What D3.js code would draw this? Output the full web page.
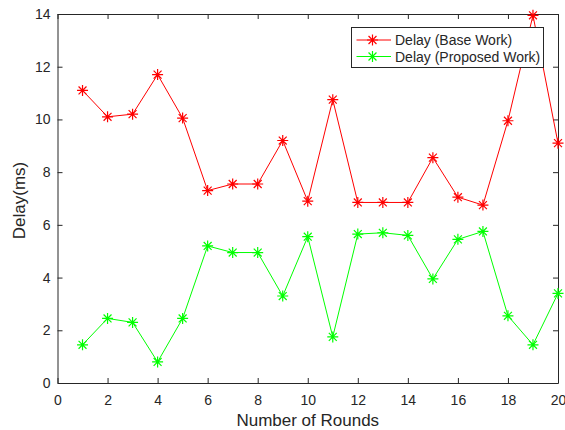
<!DOCTYPE html>
<html>
<head>
<meta charset="utf-8">
<script src="https://cdn.jsdelivr.net/npm/d3@7/dist/d3.min.js"></script>
<style>
  body { margin: 0; background: #fff; }
  text { font-family: "Liberation Sans", Arial, sans-serif; fill: #262626; }
</style>
</head>
<body>
<div id="chart"></div>
<script>
// data
let rounds = [1,2,3,4,5,6,7,8,9,10,11,12,13,14,15,16,17,18,19,20];
let baseDelay = [11.1,10.1,10.2,11.7,10.05,7.3,7.55,7.55,9.2,6.9,10.75,6.85,6.85,6.85,8.55,7.05,6.75,9.95,13.95,9.1];
let propDelay = [1.45,2.45,2.3,0.8,2.45,5.2,4.95,4.95,3.3,5.55,1.75,5.65,5.7,5.6,3.95,5.45,5.75,2.55,1.45,3.4];
let xTicks = [0,2,4,6,8,10,12,14,16,18,20];
let yTicks = [0,2,4,6,8,10,12,14];
let seriesNames = ["Delay (Base Work)", "Delay (Proposed Work)"];
let seriesColors = ["#ff0000", "#00ff00"];

let width = 565, height = 430;
let margin = {top: 14, right: 7, bottom: 47, left: 57.5};
let w = width - margin.left - margin.right,
    h = height - margin.top - margin.bottom;

let svg = d3.select("#chart").append("svg")
    .attr("width", width)
    .attr("height", height);

let g = svg.append("g")
    .attr("transform", "translate(" + margin.left + "," + margin.top + ")");

let x = d3.scaleLinear().domain([0, 20]).range([0, w]);
let y = d3.scaleLinear().domain([0, 14]).range([h, 0]);

// axes (ticks point inward, box all round)
let axisColor = "#262626";
g.append("g").attr("transform", "translate(0," + h + ")")
    .call(d3.axisBottom(x).tickValues(xTicks).tickSizeInner(-5).tickSizeOuter(0).tickPadding(12))
    .call(a => a.selectAll("text").attr("font-size", 14));
g.append("g")
    .call(d3.axisTop(x).tickValues(xTicks).tickSizeInner(-5).tickSizeOuter(0).tickFormat(""));
g.append("g")
    .call(d3.axisLeft(y).tickValues(yTicks).tickSizeInner(-5).tickSizeOuter(0).tickPadding(7))
    .call(a => a.selectAll("text").attr("font-size", 14));
g.append("g").attr("transform", "translate(" + w + ",0)")
    .call(d3.axisRight(y).tickValues(yTicks).tickSizeInner(-5).tickSizeOuter(0).tickFormat(""));
g.selectAll(".domain, .tick line").attr("stroke", axisColor);

// asterisk marker path
function star(r) {
    let d = r * 0.72;
    return "M" + (-r) + ",0L" + r + ",0M0," + (-r) + "L0," + r +
        "M" + (-d) + "," + (-d) + "L" + d + "," + d +
        "M" + (-d) + "," + d + "L" + d + "," + (-d);
}

let line = d3.line()
    .x(function(d, i) { return x(rounds[i]); })
    .y(function(d) { return y(d); });

[baseDelay, propDelay].forEach(function(vals, k) {
    g.append("path")
        .datum(vals)
        .attr("fill", "none")
        .attr("stroke", seriesColors[k])
        .attr("stroke-width", 1)
        .attr("d", line);
    g.selectAll(".m" + k)
        .data(vals).enter()
        .append("path")
        .attr("class", "m" + k)
        .attr("transform", function(d, i) { return "translate(" + x(rounds[i]) + "," + y(d) + ")"; })
        .attr("d", star(5.5))
        .attr("stroke", seriesColors[k])
        .attr("stroke-width", 1.2)
        .attr("fill", "none");
});

// axis labels
svg.append("text")
    .attr("x", margin.left + w / 2)
    .attr("y", 426)
    .attr("text-anchor", "middle")
    .attr("font-size", 17)
    .text("Number of Rounds");
svg.append("text")
    .attr("transform", "translate(24.5," + (margin.top + h / 2 + 2) + ") rotate(-90)")
    .attr("text-anchor", "middle")
    .attr("font-size", 17)
    .text("Delay(ms)");

// legend
let leg = svg.append("g").attr("transform", "translate(351.5,27.5)");
leg.append("rect")
    .attr("width", 192).attr("height", 40)
    .attr("fill", "#fff")
    .attr("stroke", "#262626")
    .attr("stroke-width", 1);
seriesNames.forEach(function(name, k) {
    let yy = 12.5 + k * 16.5;
    leg.append("line")
        .attr("x1", 5).attr("x2", 39.5)
        .attr("y1", yy).attr("y2", yy)
        .attr("stroke", seriesColors[k]);
    leg.append("path")
        .attr("transform", "translate(21," + yy + ")")
        .attr("d", star(5.5))
        .attr("stroke", seriesColors[k])
        .attr("stroke-width", 1.2)
        .attr("fill", "none");
    leg.append("text")
        .attr("x", 43.5).attr("y", yy + 5)
        .attr("font-size", 14)
        .text(name);
});
</script>
</body>
</html>
